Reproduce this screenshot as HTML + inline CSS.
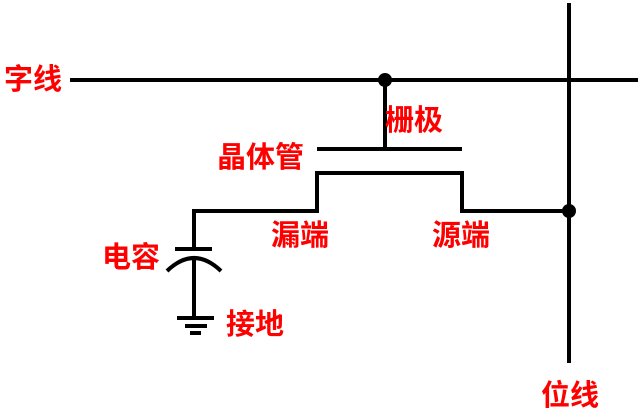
<!DOCTYPE html>
<html><head><meta charset="utf-8"><style>
body{margin:0;background:#fff;width:641px;height:413px;overflow:hidden}
svg{display:block}
text{font-family:"Liberation Sans","Noto Sans CJK SC",sans-serif;fill:#f00;font-size:29px;font-weight:bold;dominant-baseline:central}
</style></head><body>
<svg width="641" height="413" viewBox="0 0 641 413">
<g stroke="#000" stroke-width="4" fill="none">
<line x1="70" y1="80" x2="638" y2="80"/>
<line x1="569" y1="3" x2="569" y2="363"/>
<line x1="385" y1="80" x2="385" y2="149"/>
<line x1="317" y1="149" x2="462" y2="149"/>
<polyline points="194,249 194,211 317,211 317,173 462,173 462,211 569,211"/>
<line x1="175" y1="249" x2="212" y2="249"/>
<path d="M167,271 Q194,245 221,271"/>
<line x1="194" y1="258" x2="194" y2="318"/>
<line x1="177" y1="318" x2="214" y2="318"/>
<line x1="185" y1="326" x2="207" y2="326"/>
<line x1="190" y1="333" x2="201" y2="333"/>
</g>
<circle cx="385" cy="80" r="7" fill="#000"/>
<circle cx="569" cy="211" r="7" fill="#000"/>
<text x="4" y="80">字线</text>
<text x="385" y="121">栅极</text>
<text x="217" y="158">晶体管</text>
<text x="271" y="236">漏端</text>
<text x="432" y="236">源端</text>
<text x="102" y="258">电容</text>
<text x="226" y="325">接地</text>
<text x="541" y="396">位线</text>
</svg>
</body></html>
